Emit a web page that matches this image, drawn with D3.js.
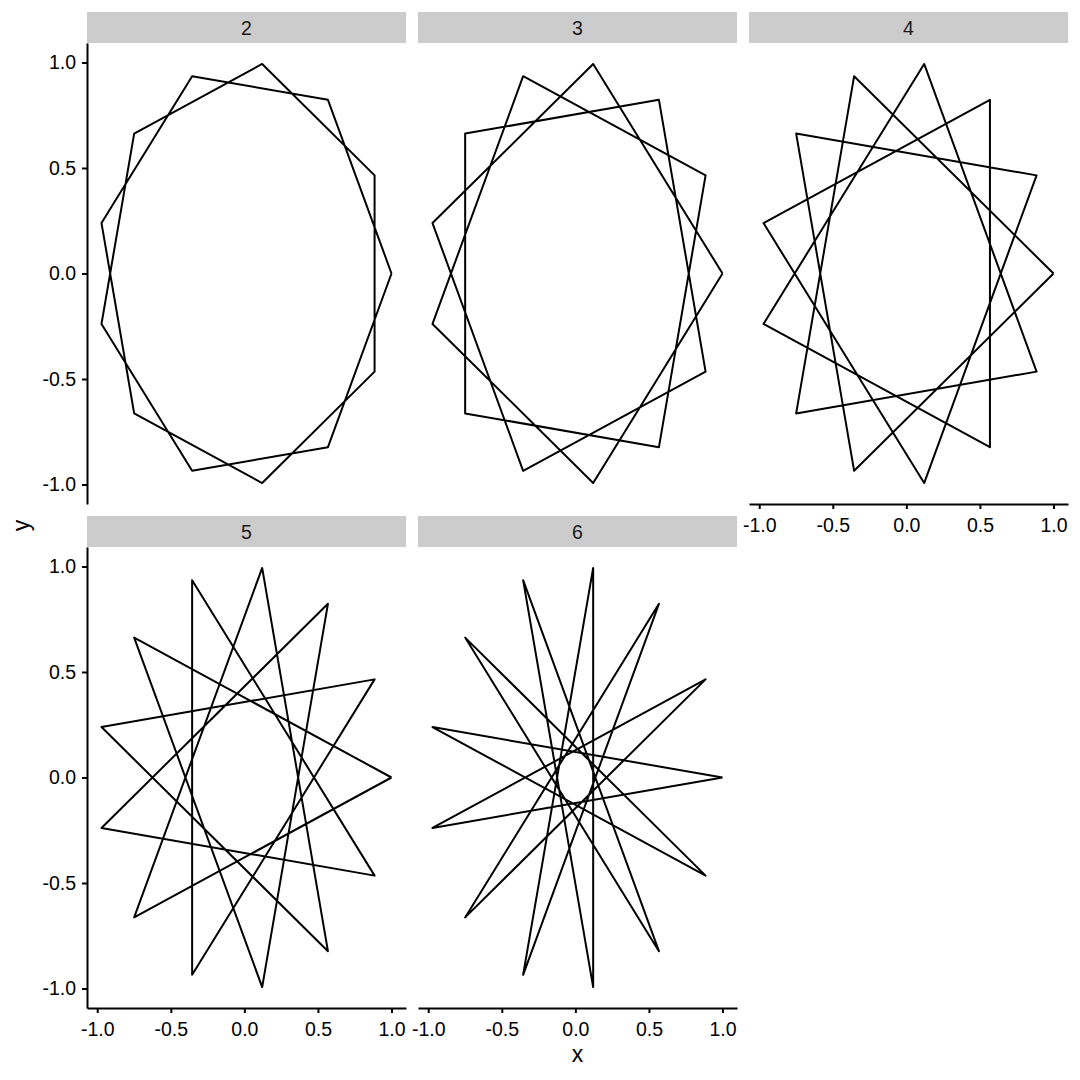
<!DOCTYPE html>
<html>
<head>
<meta charset="utf-8">
<script src="https://cdn.jsdelivr.net/npm/d3@7"></script>
<style>
  body { margin: 0; background: #fff; }
  svg { font-family: "Liberation Sans", Arial, sans-serif; }
</style>
</head>
<body>
<svg width="1080" height="1080"></svg>
<script>

// DATA ––––––––––––––––––––––––––––––––––––––––––––––––––––––––––––––––

// facet labels (step used to join the 13 points)
var facets = ["2", "3", "4", "5", "6"];

// the 13 points
var px = [1.000, 0.885, 0.568, 0.121, -0.355, -0.749, -0.971, -0.971, -0.749, -0.355, 0.121, 0.568, 0.885];
var py = [0.000, 0.465, 0.823, 0.993, 0.935, 0.663, 0.239, -0.239, -0.663, -0.935, -0.993, -0.823, -0.465];

// order the points are visited in each facet
var order2 = [0, 2, 4, 6, 8, 10, 12, 1, 3, 5, 7, 9, 11, 0];
var order3 = [0, 3, 6, 9, 12, 2, 5, 8, 11, 1, 4, 7, 10, 0];
var order4 = [0, 4, 8, 12, 3, 7, 11, 2, 6, 10, 1, 5, 9, 0];
var order5 = [0, 5, 10, 2, 7, 12, 4, 9, 1, 6, 11, 3, 8, 0];
var order6 = [0, 6, 12, 5, 11, 4, 10, 3, 9, 2, 8, 1, 7, 0];
var orders = [order2, order3, order4, order5, order6];

var tickValues = [-1, -0.5, 0, 0.5, 1];
var tickLabels = ["-1.0", "-0.5", "0.0", "0.5", "1.0"];


// DRAW –––––––––––––––––––––––––––––––––––––––––––––––––––––––––––––––––

var svg = d3.select("svg");

var colLeft = [87, 418, 749],
    rowTop = [12, 516],
    stripH = 31,
    panelW = 319,
    panelH = 461;

// ggplot style 5% expansion
var xExt = d3.extent(px), yExt = d3.extent(py);
var xPad = (xExt[1] - xExt[0]) * 0.05, yPad = (yExt[1] - yExt[0]) * 0.05;

var x = d3.scaleLinear().domain([xExt[0] - xPad, xExt[1] + xPad]).range([0, panelW]);
var y = d3.scaleLinear().domain([yExt[0] - yPad, yExt[1] + yPad]).range([panelH, 0]);

var line = d3.line()
  .x(function(i) { return x(px[i]); })
  .y(function(i) { return y(py[i]); });

var fmt = function(d) { return tickLabels[tickValues.indexOf(d)]; };

function styleAxis(a) {
  a.select(".domain").attr("stroke", "#000").attr("stroke-width", 2);
  a.selectAll(".tick line").attr("stroke", "#000").attr("stroke-width", 2);
  a.selectAll(".tick text").attr("fill", "#000").style("font-size", "19.5px");
}

facets.forEach(function(f, k) {
  var col = k % 3, row = Math.floor(k / 3);
  var left = colLeft[col], top = rowTop[row];

  var strip = svg.append("g").attr("transform", "translate(" + left + "," + top + ")");
  strip.append("rect")
    .attr("width", panelW)
    .attr("height", stripH)
    .attr("fill", "#cccccc");
  strip.append("text")
    .attr("x", panelW / 2)
    .attr("y", stripH / 2)
    .attr("dy", "0.36em")
    .attr("text-anchor", "middle")
    .style("font-size", "19.5px")
    .attr("fill", "#1a1a1a")
    .text(f);

  var g = svg.append("g").attr("transform", "translate(" + left + "," + (top + stripH) + ")");

  g.append("path")
    .datum(orders[k])
    .attr("fill", "none")
    .attr("stroke", "#000")
    .attr("stroke-width", 2)
    .attr("stroke-linejoin", "round")
    .attr("d", line);

  if (col === 0) {
    g.append("g")
      .call(d3.axisLeft(y).tickValues(tickValues).tickFormat(fmt).tickSize(5).tickSizeOuter(0).tickPadding(6))
      .call(styleAxis);
  }
  // bottom axis where no panel sits below
  if (row === 1 || col === 2) {
    g.append("g")
      .attr("transform", "translate(0," + panelH + ")")
      .call(d3.axisBottom(x).tickValues(tickValues).tickFormat(fmt).tickSize(5).tickSizeOuter(0).tickPadding(9))
      .call(styleAxis);
  }
});

// axis titles
svg.append("text")
  .attr("x", (colLeft[0] + colLeft[2] + panelW) / 2)
  .attr("y", 1062)
  .attr("text-anchor", "middle")
  .style("font-size", "23px")
  .text("x");

svg.append("text")
  .attr("transform", "translate(29," + ((rowTop[0] + stripH + rowTop[1] + stripH + panelH) / 2) + ") rotate(-90)")
  .attr("text-anchor", "middle")
  .style("font-size", "23px")
  .text("y");

</script>
</body>
</html>
